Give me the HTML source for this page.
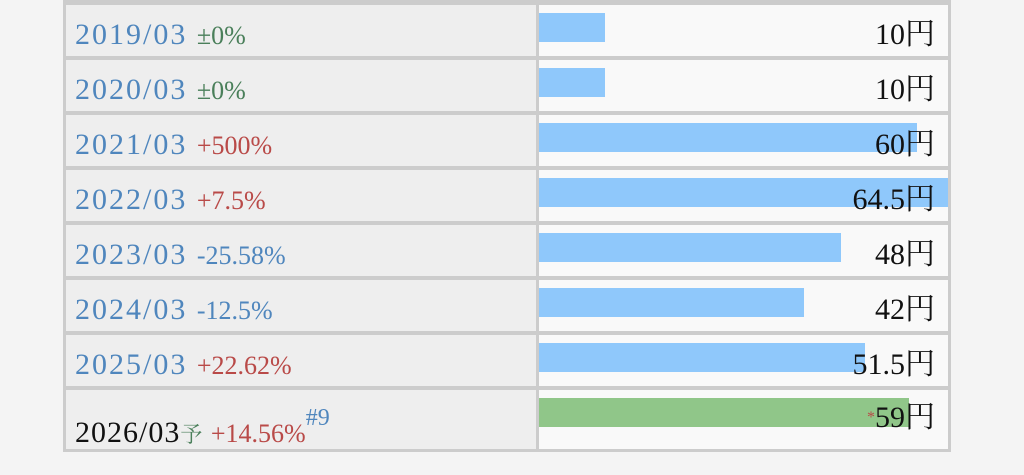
<!DOCTYPE html>
<html><head><meta charset="utf-8"><style>
body{margin:0;width:1024px;height:475px;background:#f4f4f4;position:relative;overflow:hidden;font-family:"Liberation Serif","Noto Serif CJK SC",serif}
.t{position:absolute;left:63px;top:0;width:888px;height:452px;background:#ccc}
.l{position:absolute;left:66px;width:470px;background:#eeeeee}
.r{position:absolute;left:539px;width:409px;background:#f9f9f9;overflow:hidden}
.bar{position:absolute;left:0;height:29px;background:#8fc8fb}
.y{position:absolute;left:9px;font-size:30px;letter-spacing:2px;color:#4f86bd;white-space:nowrap;line-height:36px}
.v{position:absolute;right:13px;font-size:30px;color:#111;white-space:nowrap;line-height:36px}
.g{color:#4a7f5a;font-size:26px;letter-spacing:0}.p{color:#b94a48;font-size:26px;letter-spacing:0}.m{color:#4f86bd;font-size:26px;letter-spacing:0}
</style></head><body>
<div class="t"></div>
<div class="l" style="top:5px;height:51px"><span class="y" style="top:12px">2019/03 <span class="g">±0%</span></span></div>
<div class="r" style="top:5px;height:51px"><div class="bar" style="width:66px;top:8px"></div><span class="v" style="top:12px">10円</span></div>

<div class="l" style="top:60px;height:51px"><span class="y" style="top:12px">2020/03 <span class="g">±0%</span></span></div>
<div class="r" style="top:60px;height:51px"><div class="bar" style="width:66px;top:8px"></div><span class="v" style="top:12px">10円</span></div>

<div class="l" style="top:115px;height:51px"><span class="y" style="top:12px">2021/03 <span class="p">+500%</span></span></div>
<div class="r" style="top:115px;height:51px"><div class="bar" style="width:378px;top:8px"></div><span class="v" style="top:12px">60円</span></div>

<div class="l" style="top:170px;height:51px"><span class="y" style="top:12px">2022/03 <span class="p">+7.5%</span></span></div>
<div class="r" style="top:170px;height:51px"><div class="bar" style="width:409px;top:8px"></div><span class="v" style="top:12px">64.5円</span></div>

<div class="l" style="top:225px;height:51px"><span class="y" style="top:12px">2023/03 <span class="m">-25.58%</span></span></div>
<div class="r" style="top:225px;height:51px"><div class="bar" style="width:302px;top:8px"></div><span class="v" style="top:12px">48円</span></div>

<div class="l" style="top:280px;height:51px"><span class="y" style="top:12px">2024/03 <span class="m">-12.5%</span></span></div>
<div class="r" style="top:280px;height:51px"><div class="bar" style="width:265px;top:8px"></div><span class="v" style="top:12px">42円</span></div>

<div class="l" style="top:335px;height:51px"><span class="y" style="top:12px">2025/03 <span class="p">+22.62%</span></span></div>
<div class="r" style="top:335px;height:51px"><div class="bar" style="width:326px;top:8px"></div><span class="v" style="top:12px">51.5円</span></div>

<div class="l" style="top:390px;height:59px"><span class="y" style="top:16px;color:#111;letter-spacing:1px">2026/03<span class="g" style="font-family:'Noto Serif CJK SC',serif;font-size:22px">予</span> <span class="p">+14.56%</span><sup class="m" style="font-size:24px;position:relative;top:-6px">#9</sup></span></div>
<div class="r" style="top:390px;height:59px"><div class="bar" style="width:370px;top:8px;background:#90c689"></div><span class="v" style="top:10px"><span style="color:#b94a48;font-size:16px;vertical-align:top">*</span>59円</span></div>
</body></html>
